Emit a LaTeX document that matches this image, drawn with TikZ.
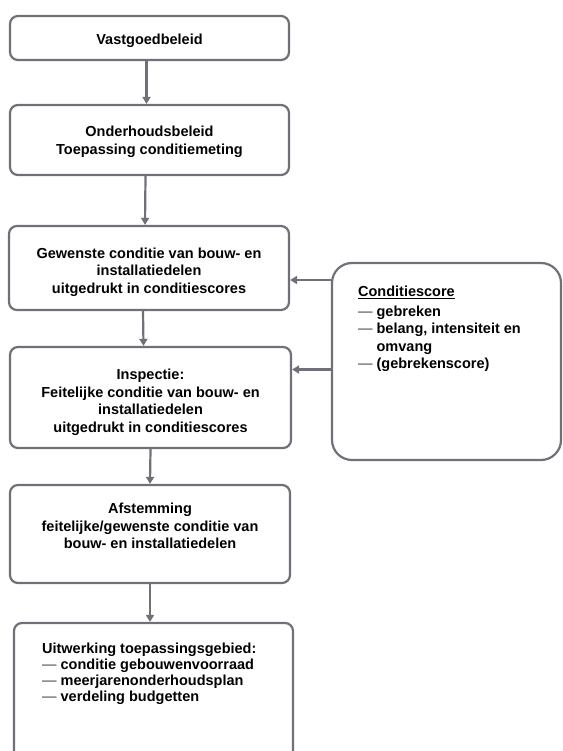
\documentclass[tikz,border=0pt]{standalone}
\usepackage{fontspec}
\setmainfont{Liberation Sans}
\usetikzlibrary{positioning,arrows.meta}
\definecolor{lijn}{RGB}{112,112,120}
\definecolor{streep}{RGB}{120,120,128}
\newcommand{\streepje}{{\color{streep}---}}
\tikzset{
  blok/.style={draw=lijn, line width=2.2pt, rounded corners=8pt, minimum width=279pt, inner sep=0pt},
  tekst/.style={font=\fontsize{14.5}{17.5}\selectfont\bfseries, align=center, inner sep=0pt},
  pijl/.style={draw=lijn, line width=2.2pt, -{Triangle[length=7pt,width=8pt]}}
}
\begin{document}
\begin{tikzpicture}[x=1pt, y=-1pt]
  \useasboundingbox (0,0) rectangle (562,751);
  % left column
  \node [blok, minimum height=44pt] (vast) at (149.5,38) {};
  \node [blok, minimum height=70pt] (onder) at (149.5,140) {};
  \node [blok, minimum height=84pt, minimum width=280pt] (gew) at (149,268) {};
  \node [blok, minimum height=101pt, minimum width=281pt] (insp) at (150.5,397.5) {};
  \node [blok, minimum height=98pt, minimum width=280pt] (afst) at (150,534) {};
  \node [blok, minimum height=150pt] (uitw) at (153.5,698) {};
  % right box
  \node [blok, rounded corners=20pt, minimum width=229pt, minimum height=197pt] (score) at (446.5,361.5) {};
  % texts
  \node [tekst] at ([yshift=-3pt]vast.center) {Vastgoedbeleid};
  \node [tekst] at ([yshift=-2pt]onder.center) {Onderhoudsbeleid\\Toepassing conditiemeting};
  \node [tekst] at ([yshift=-4pt]gew.center) {Gewenste conditie van bouw- en\\installatiedelen\\uitgedrukt in conditiescores};
  \node [tekst] at ([yshift=-5pt]insp.center) {Inspectie:\\Feitelijke conditie van bouw- en\\installatiedelen\\uitgedrukt in conditiescores};
  \node [tekst] at ([yshift=8pt]afst.center) {Afstemming\\feitelijke/gewenste conditie van\\bouw- en installatiedelen};
  \node [tekst, font=\fontsize{14.5}{16}\selectfont\bfseries, align=left, anchor=north west] at ([xshift=29pt,yshift=-21pt]uitw.north west)
    {Uitwerking toepassingsgebied:\\\streepje\ conditie gebouwenvoorraad\\\streepje\ meerjarenonderhoudsplan\\\streepje\ verdeling budgetten};
  \node [tekst, align=left, anchor=north west] at ([xshift=27pt,yshift=-24pt]score.north west)
    {\underline{Conditiescore}\\[4pt]
     \begin{tabular}{@{}l@{\ }l@{}}
       \streepje & gebreken\\
       \streepje & belang, intensiteit en\\
                 & omvang\\
       \streepje & (gebrekenscore)
     \end{tabular}};
  % connectors
  \draw [pijl] ([xshift=-3pt]vast.south) -- ([xshift=-3pt]onder.north);
  \draw [pijl] ([xshift=-4pt]onder.south) -- ([xshift=-4pt]gew.north);
  \draw [pijl] ([xshift=-6pt]gew.south) -- ([xshift=-7pt]insp.north);
  \draw [pijl] (insp.south) -- (afst.north);
  \draw [pijl] (afst.south) -- (afst.south |- uitw.north);
  \draw [pijl] ([yshift=-12pt]gew.east -| score.west) -- ([yshift=-12pt]gew.east);
  \draw [pijl] ([yshift=28pt]insp.east -| score.west) -- ([yshift=28pt]insp.east);
\end{tikzpicture}
\end{document}
